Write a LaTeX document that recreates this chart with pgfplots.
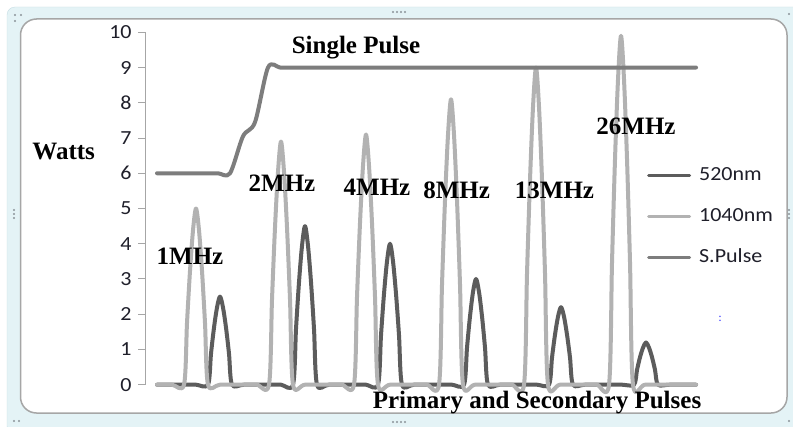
\documentclass[border=0pt]{standalone}
\usepackage{fontspec}
\setmainfont{Liberation Serif}
\newfontfamily\calib{Carlito}[FakeStretch=1.1]
\usepackage{pgfplots}
\pgfplotsset{compat=1.18}
\definecolor{cdark}{HTML}{5C5C5C}
\definecolor{clight}{HTML}{B2B2B2}
\definecolor{cpulse}{HTML}{7D7D7D}
\definecolor{ctext}{HTML}{1F1F2A}
\definecolor{framecyan}{HTML}{E4F3F6}
\definecolor{frameedge}{HTML}{C5DDE3}
\definecolor{innerframe}{HTML}{A6A6A6}
\definecolor{handle}{HTML}{8A9399}
\begin{document}
\begin{tikzpicture}
\begin{scope}[x=1bp,y=1bp]
\useasboundingbox (0,0) rectangle (793,426);
\fill[framecyan, draw=frameedge, rounded corners=8bp] (7,-8) rectangle (803,419);
\filldraw[fill=white, draw=innerframe, line width=1.5bp, rounded corners=16bp] (20.5,13) rectangle (787,407);
% selection handles
\foreach \p in {(15,411),(21,411),(15,405),(393,414),(397,414),(401,414),(405,414),(393,4),(397,4),(401,4),(405,4),(14,216),(14,212),(14,208),(789,216),(789,212),(789,208),(789,412),(789,5),(14,5),(19,5)}
  \fill[handle] \p circle (1.1bp);
\end{scope}
\begin{axis}[
  at={(145.6bp,41.3bp)}, anchor=south west,
  scale only axis, width=561.4bp, height=352.4bp,
  xmin=145.6, xmax=707, ymin=0, ymax=10,
  axis x line=none, axis y line*=left,
  axis line style={draw=innerframe, line width=1bp},
  ytick={0,1,...,10},
  tick align=outside, major tick length=7.5bp,
  tick style={draw=innerframe, line width=1bp},
  /pgf/number format/assume math mode=true,
  yticklabel style={font=\calib\fontsize{20bp}{24bp}\selectfont, text=ctext, xshift=-3bp},
  clip=false,
  legend image code/.code={\draw[#1, line width=3bp] (0bp,0bp) -- (41bp,0bp);},
  legend cell align=left,
  legend style={draw=none, fill=none, at={(0.893,0.6185)}, anchor=north west,
    font=\calib\fontsize{20bp}{24bp}\selectfont, text=ctext,
    inner sep=0pt, row sep=23bp,
    nodes={inner sep=0pt, text height=14bp, text depth=4bp},
    /tikz/every odd column/.append style={column sep=8bp}},
  every axis plot/.append style={smooth, tension=0.5, line width=4bp, line join=round, line cap=round},
]
\addplot[cdark] coordinates {
 (157,0) (184,0) (196,0)
 (208,0) (211,0.88) (214,1.62) (217,2.19) (220,2.5) (223,2.19) (226,1.62) (229,0.88) (232,0)
 (244,0) (269,0) (281,0)
 (293,0) (296,1.58) (299,2.91) (302,3.94) (305,4.5) (308,3.94) (311,2.91) (314,1.58) (317,0)
 (329,0) (354,0) (366,0)
 (378,0) (381,1.4) (384,2.58) (387,3.5) (390,4.0) (393,3.5) (396,2.58) (399,1.4) (402,0)
 (414,0) (439,0) (452,0)
 (464,0) (467,1.05) (470,1.94) (473,2.63) (476,3.0) (479,2.63) (482,1.94) (485,1.05) (488,0)
 (500,0) (524,0) (537,0)
 (549,0) (552,0.77) (555,1.42) (558,1.93) (561,2.2) (564,1.93) (567,1.42) (570,0.77) (573,0)
 (585,0) (609,0) (622,0)
 (634,0) (637,0.42) (640,0.78) (643,1.05) (646,1.2) (649,1.05) (652,0.78) (655,0.42) (658,0)
 (670,0) (696,0)};
\addlegendentry{520nm}
\addplot[clight] coordinates {
 (157,0) (172,0)
 (184,0) (187,1.75) (190,3.23) (193,4.38) (196,5.0) (199,4.38) (202,3.23) (205,1.75) (208,0)
 (220,0) (245,0) (257,0)
 (269,0) (272,2.42) (275,4.46) (278,6.04) (281,6.9) (284,6.04) (287,4.46) (290,2.42) (293,0)
 (305,0) (330,0) (342,0)
 (354,0) (357,2.49) (360,4.59) (363,6.21) (366,7.1) (369,6.21) (372,4.59) (375,2.49) (378,0)
 (390,0) (415,0) (427,0)
 (439,0) (442,2.84) (445,5.23) (448,7.09) (451,8.1) (454,7.09) (457,5.23) (460,2.84) (463,0)
 (475,0) (500,0) (512,0)
 (524,0) (527,3.15) (530,5.81) (533,7.88) (536,9.0) (539,7.88) (542,5.81) (545,3.15) (548,0)
 (560,0) (585,0) (597,0)
 (609,0) (612,3.47) (615,6.40) (618,8.66) (621,9.9) (624,8.66) (627,6.40) (630,3.47) (633,0)
 (645,0) (670,0) (696,0)};
\addlegendentry{1040nm}
\addplot[cpulse] coordinates {
 (157,6) (169,6) (181,6) (194,6) (206,6) (218,6) (230,6)
 (243,7.05) (255,7.45) (268,9.0) (280,9) (292,9) (320,9) (400,9)
 (500,9) (600,9) (696,9)};
\addlegendentry{S.Pulse}
\end{axis}
\begin{scope}[x=1bp,y=1bp,every node/.style={font=\bfseries\fontsize{25bp}{30bp}\selectfont, text=black, inner sep=0pt, anchor=base}]
\node at (356,373) {Single Pulse};
\node at (63.7,267) {Watts};
\node at (190,161.3) {1MHz};
\node at (282,234.3) {2MHz};
\node at (377,231) {4MHz};
\node at (456.7,228) {8MHz};
\node at (554.5,228) {13MHz};
\node at (636,291.7) {26MHz};
\node at (537,18) {Primary and Secondary Pulses};
\end{scope}
\node[text=blue!70, font=\calib\fontsize{12bp}{14bp}\selectfont, inner sep=0pt] at (720bp,107bp) {:};
\end{tikzpicture}
\end{document}
